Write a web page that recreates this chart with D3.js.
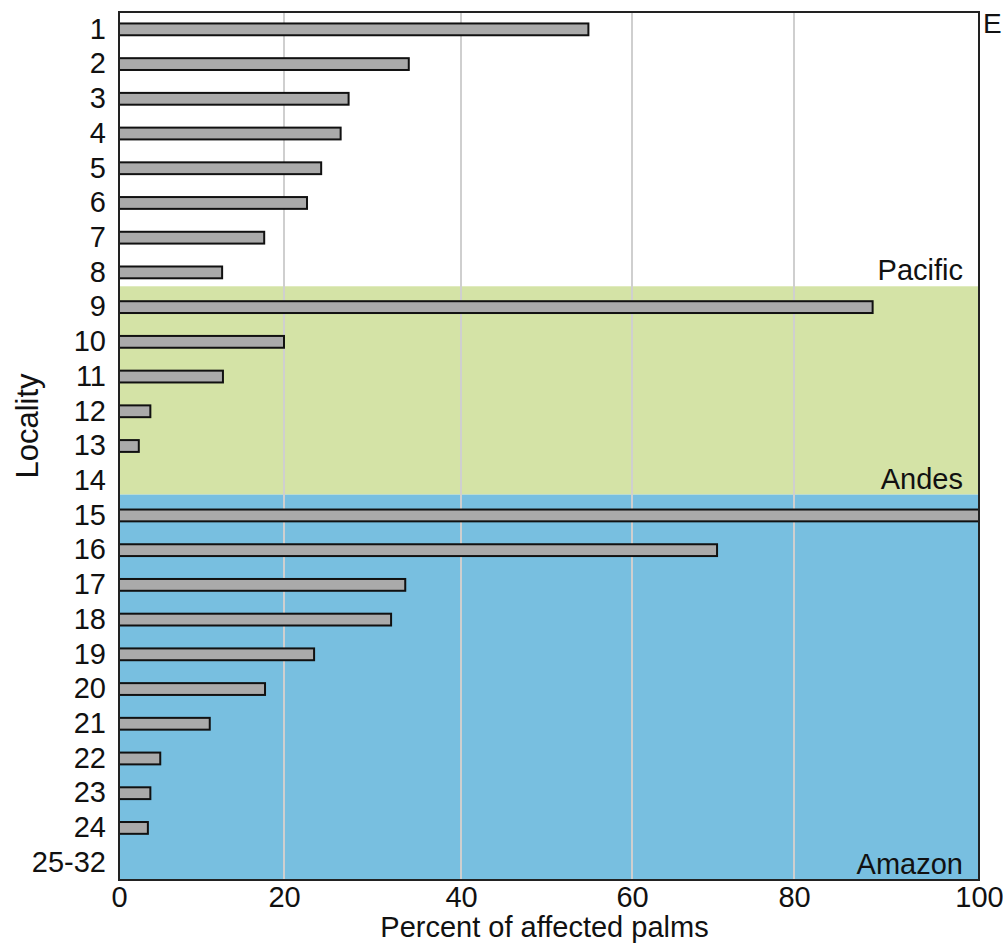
<!DOCTYPE html>
<html>
<head>
<meta charset="utf-8">
<script src="https://cdn.jsdelivr.net/npm/d3@7"></script>
<style>
  body { margin: 0; background: #fff; }
  text { font-family: "Liberation Sans", Arial, sans-serif; fill: #111; }
</style>
</head>
<body>
<div id="app"></div>
<script>
const margin = { left: 119, top: 12, right: 24, bottom: 63 };
const bounds = {
    width: 1003 - margin.left - margin.right,
    height: 943 - margin.top - margin.bottom
};

// data
const localities = ["1", "2", "3", "4", "5", "6", "7", "8", "9", "10", "11", "12",
    "13", "14", "15", "16", "17", "18", "19", "20", "21", "22", "23", "24", "25-32"];
const affected = [54.9, 34.1, 27.3, 26.4, 24.2, 22.6, 17.6, 12.5, 88.5, 20.0, 12.6, 3.8,
    2.4, null, 100, 70.5, 33.7, 32.1, 23.4, 17.7, 11.0, 5.0, 3.8, 3.5, null];
const regionNames = ["Pacific", "Andes", "Amazon"];
const regionFirst = ["1", "9", "15"];
const regionLast = ["8", "14", "25-32"];
const regionFill = ["#ffffff", "#d4e3a6", "#78bfe0"];
const xTicks = [0, 20, 40, 60, 80, 100];

const svg = d3.select('#app')
    .append('svg')
    .attr('width', 1003)
    .attr('height', 943)
    .append('g')
    .attr('transform', `translate(${margin.left},${margin.top})`)

// the figure's x axis is slightly uneven, so use a polylinear scale
const xScale = d3.scaleLinear()
    .domain(xTicks)
    .range([0, 165, 342, 513, 675, bounds.width])
const yScale = d3.scaleBand()
    .domain(localities)
    .range([0, bounds.height])
    .paddingInner(0.66)
    .paddingOuter(0.33)
const step = yScale.step()
const mid = d => yScale(d) + yScale.bandwidth() / 2

// region backgrounds
const regTop = (d, i) => i === 0 ? 0 : mid(regionFirst[i]) - step * 0.6
svg.selectAll('.region')
    .data(regionNames)
    .join('rect')
    .attr('class', 'region')
    .attr('x', 0)
    .attr('width', bounds.width)
    .attr('y', regTop)
    .attr('height', (d, i) => (i === regionNames.length - 1 ? bounds.height : regTop(null, i + 1)) - regTop(d, i))
    .attr('fill', (d, i) => regionFill[i])

// grid lines
svg.selectAll('.grid')
    .data(xTicks.slice(1, -1))
    .join('line')
    .attr('class', 'grid')
    .attr('x1', d => xScale(d)).attr('x2', d => xScale(d))
    .attr('y1', 0).attr('y2', bounds.height)
    .attr('stroke', '#cfcfcf')
    .attr('stroke-width', 2)

// region labels
svg.selectAll('.regLabel')
    .data(regionNames)
    .join('text')
    .attr('class', 'regLabel')
    .attr('x', bounds.width - 16)
    .attr('y', (d, i) => (i === regionNames.length - 1 ? bounds.height : regTop(null, i + 1)) - 6)
    .attr('text-anchor', 'end')
    .attr('font-size', 29)
    .text(d => d)

// bars
const rows = localities.map((d, i) => ({ loc: d, v: affected[i] })).filter(d => d.v !== null)
svg.selectAll('.bar')
    .data(rows)
    .join('rect')
    .attr('class', 'bar')
    .attr('x', 0)
    .attr('y', d => yScale(d.loc))
    .attr('width', d => xScale(d.v))
    .attr('height', yScale.bandwidth())
    .attr('fill', '#aaaaaa')
    .attr('stroke', '#111')
    .attr('stroke-width', 2)

// frame
svg.append('rect')
    .attr('width', bounds.width)
    .attr('height', bounds.height)
    .attr('fill', 'none')
    .attr('stroke', '#222')
    .attr('stroke-width', 2)

// axes
const yAxis = svg.append('g')
    .call(d3.axisLeft(yScale).tickSize(0).tickPadding(13))
yAxis.select('.domain').remove()
yAxis.selectAll('text').attr('font-size', 29).attr('fill', '#111')
    .attr('font-family', '"Liberation Sans", Arial, sans-serif')

const xAxis = svg.append('g')
    .attr('transform', `translate(0,${bounds.height})`)
    .call(d3.axisBottom(xScale).tickValues(xTicks).tickSize(0).tickPadding(6))
xAxis.select('.domain').remove()
xAxis.selectAll('text').attr('font-size', 29).attr('fill', '#111')
    .attr('font-family', '"Liberation Sans", Arial, sans-serif')

// titles
svg.append('text')
    .attr('x', xScale(50) - 2)
    .attr('y', bounds.height + 57)
    .attr('text-anchor', 'middle')
    .attr('font-size', 29)
    .text('Percent of affected palms')
svg.append('text')
    .attr('transform', `translate(${-margin.left + 38},414) rotate(-90)`)
    .attr('text-anchor', 'middle')
    .attr('font-size', 31)
    .text('Locality')
svg.append('text')
    .attr('x', bounds.width + 4)
    .attr('y', 21)
    .attr('font-size', 28)
    .text('E')
</script>
</body>
</html>
